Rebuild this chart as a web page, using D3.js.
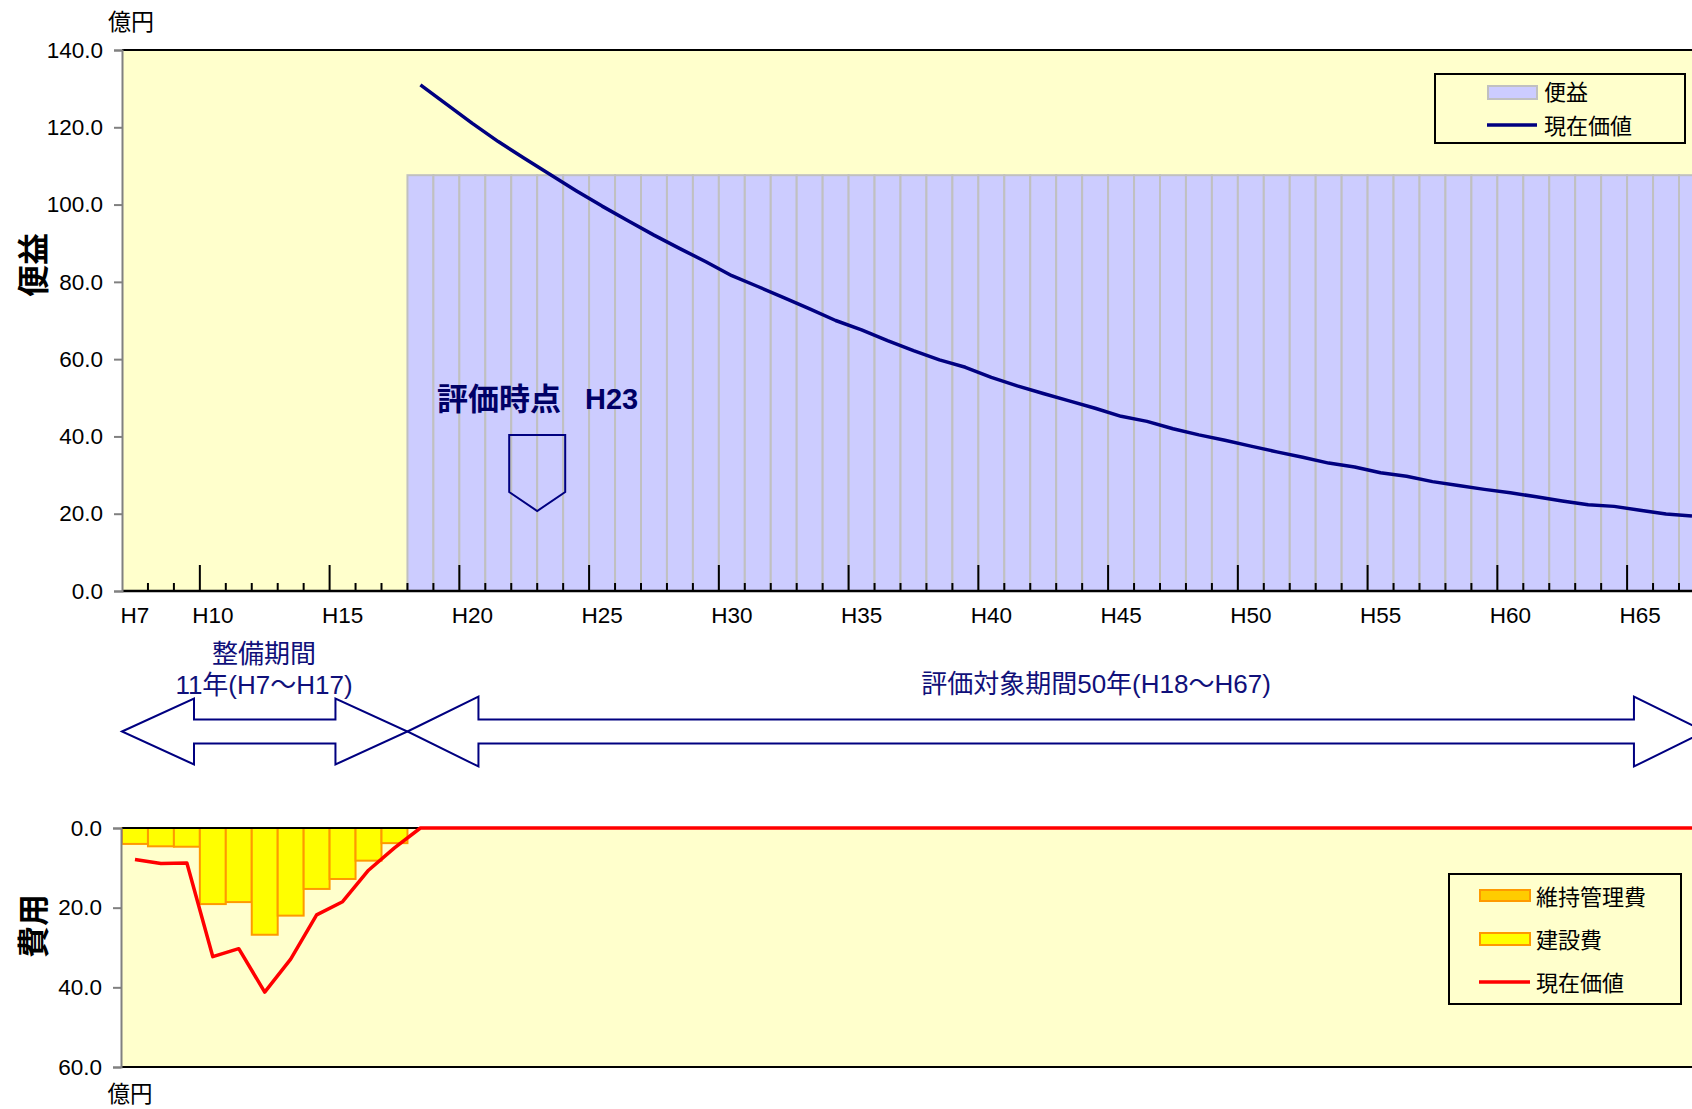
<!DOCTYPE html>
<html lang="ja">
<head>
<meta charset="utf-8">
<script src="https://cdn.jsdelivr.net/npm/d3@7"></script>
<style>
html, body { margin: 0; padding: 0; background: #fff; }
svg { display: block; font-family: "Liberation Sans", "Noto Sans CJK JP", sans-serif; }
</style>
</head>
<body>
<svg id="chart" width="1692" height="1109"></svg>
<script>
// Fiscal years H7 … H67 (one band per year)
const years = d3.range(7, 68).map(n => "H" + n);
const xTickLabels = ["H7", "H10", "H15", "H20", "H25", "H30", "H35", "H40", "H45", "H50", "H55", "H60", "H65"];
const benefitTicks = [0, 20, 40, 60, 80, 100, 120, 140];
const costTicks = [0, 20, 40, 60];

// Benefit (億円/年), H18 – H67
const benefitYears = years.slice(11);
const benefit = [
  107.6, 107.6, 107.6, 107.6, 107.6, 107.6, 107.6, 107.6, 107.6, 107.6,
  107.6, 107.6, 107.6, 107.6, 107.6, 107.6, 107.6, 107.6, 107.6, 107.6,
  107.6, 107.6, 107.6, 107.6, 107.6, 107.6, 107.6, 107.6, 107.6, 107.6,
  107.6, 107.6, 107.6, 107.6, 107.6, 107.6, 107.6, 107.6, 107.6, 107.6,
  107.6, 107.6, 107.6, 107.6, 107.6, 107.6, 107.6, 107.6, 107.6, 107.6
];
// Present value of benefit, H18 – H67
const benefitPV = [
  131.0, 126.0, 121.0, 116.3, 112.0, 107.8, 103.6, 99.6, 95.8, 92.1,
  88.6, 85.2, 81.6, 78.8, 75.9, 73.0, 70.0, 67.6, 64.8, 62.2,
  59.8, 57.9, 55.3, 53.1, 51.1, 49.2, 47.3, 45.2, 43.9, 42.0,
  40.4, 39.0, 37.5, 36.0, 34.6, 33.1, 32.1, 30.6, 29.7, 28.3,
  27.3, 26.3, 25.4, 24.4, 23.3, 22.3, 21.9, 20.9, 19.9, 19.4
];

// Costs (億円/年), H7 – H67
const constructionCost = [
  4.0, 4.6, 4.7, 19.1, 18.6, 26.8, 22.0, 15.3, 12.8, 8.2, 3.8,
  0, 0, 0, 0, 0, 0, 0, 0, 0, 0, 0, 0, 0, 0, 0, 0, 0, 0, 0, 0,
  0, 0, 0, 0, 0, 0, 0, 0, 0, 0, 0, 0, 0, 0, 0, 0, 0, 0, 0, 0,
  0, 0, 0, 0, 0, 0, 0, 0, 0, 0
];
const maintenanceCost = [
  0, 0, 0, 0, 0, 0, 0, 0, 0, 0, 0,
  0, 0, 0, 0, 0, 0, 0, 0, 0, 0, 0, 0, 0, 0, 0, 0, 0, 0, 0, 0,
  0, 0, 0, 0, 0, 0, 0, 0, 0, 0, 0, 0, 0, 0, 0, 0, 0, 0, 0, 0,
  0, 0, 0, 0, 0, 0, 0, 0, 0, 0
];
const costPV = [
  7.9, 8.9, 8.8, 32.3, 30.3, 41.2, 32.9, 21.8, 18.5, 10.6, 5.0,
  0, 0, 0, 0, 0, 0, 0, 0, 0, 0, 0, 0, 0, 0, 0, 0, 0, 0, 0, 0,
  0, 0, 0, 0, 0, 0, 0, 0, 0, 0, 0, 0, 0, 0, 0, 0, 0, 0, 0, 0,
  0, 0, 0, 0, 0, 0, 0, 0, 0, 0
];

const NAVY = "#000080";
const PLOT_BG = "#FFFFCC";
const TICK_FONT = 22.5;
const svg = d3.select("#chart");

const left = 122, step = 25.95;
const x = d3.scaleBand().domain(years).range([left, left + years.length * step]).paddingInner(0).paddingOuter(0);
const xr = x.range()[1];
const cx = d => x(d) + x.bandwidth() / 2;

// ---------- Upper panel: benefit ----------
const yB = d3.scaleLinear().domain([0, 140]).range([591, 50]);
const upper = svg.append("g");

upper.append("rect").attr("x", left).attr("y", yB(140)).attr("width", xr - left).attr("height", yB(0) - yB(140))
  .attr("fill", PLOT_BG);

upper.append("g").selectAll("rect").data(benefitYears).join("rect")
  .attr("x", d => x(d)).attr("width", x.bandwidth())
  .attr("y", (d, i) => yB(benefit[i])).attr("height", (d, i) => yB(0) - yB(benefit[i]))
  .attr("fill", "#CCCCFF").attr("stroke", "#C0C0C0").attr("stroke-width", 2);

upper.append("path").datum(benefitYears)
  .attr("fill", "none").attr("stroke", NAVY).attr("stroke-width", 3.5).attr("stroke-linejoin", "round")
  .attr("d", d3.line().x(d => cx(d)).y((d, i) => yB(benefitPV[i])));

// evaluation-point marker
const mx = x("H23");
upper.append("path")
  .attr("d", `M${mx - 28},435 L${mx + 28},435 L${mx + 28},492 L${mx},511 L${mx - 28},492 Z`)
  .attr("fill", "none").attr("stroke", NAVY).attr("stroke-width", 2);
upper.append("text").attr("x", 437).attr("y", 399).attr("dominant-baseline", "central")
  .attr("font-size", 31).attr("font-weight", "bold").attr("fill", "#000066")
  .text("評価時点");
upper.append("text").attr("x", 585).attr("y", 399).attr("dominant-baseline", "central")
  .attr("font-size", 29).attr("font-weight", "bold").attr("fill", "#000066")
  .text("H23");

// plot frame top
upper.append("line").attr("x1", left).attr("x2", xr).attr("y1", yB(140)).attr("y2", yB(140))
  .attr("stroke", "#000").attr("stroke-width", 2);

// category axis with year ticks
upper.append("line").attr("x1", left).attr("x2", xr).attr("y1", yB(0)).attr("y2", yB(0))
  .attr("stroke", "#000").attr("stroke-width", 2.5);
upper.append("g").selectAll("line").data(years.slice(1)).join("line")
  .attr("x1", d => x(d)).attr("x2", d => x(d))
  .attr("y1", yB(0)).attr("y2", d => yB(0) - (+d.slice(1) % 5 === 0 ? 26 : 8))
  .attr("stroke", "#000").attr("stroke-width", 2);

const xAxis = upper.append("g").attr("transform", `translate(0,${yB(0)})`)
  .call(d3.axisBottom(x).tickValues(xTickLabels).tickSize(0).tickPadding(16));
xAxis.select(".domain").remove();
xAxis.selectAll("text").attr("font-size", TICK_FONT).attr("fill", "#000").attr("font-family", null);

const yAxisB = upper.append("g").attr("transform", `translate(${left},0)`)
  .call(d3.axisLeft(yB).tickValues(benefitTicks).tickFormat(d3.format(".1f")).tickSize(8).tickPadding(11));
yAxisB.select(".domain").attr("stroke", "#808080").attr("stroke-width", 2);
yAxisB.selectAll(".tick line").attr("stroke", "#808080").attr("stroke-width", 2);
yAxisB.selectAll("text").attr("font-size", TICK_FONT).attr("fill", "#000").attr("font-family", null);

svg.append("text").attr("x", 131).attr("y", 22).attr("text-anchor", "middle").attr("dominant-baseline", "central")
  .attr("font-size", 23).text("億円");
svg.append("text").attr("transform", "translate(34,265) rotate(-90)").attr("text-anchor", "middle")
  .attr("dominant-baseline", "central").attr("font-size", 32).attr("font-weight", "bold").text("便益");

// legend (benefit)
const lg1 = svg.append("g");
lg1.append("rect").attr("x", 1435).attr("y", 74).attr("width", 250).attr("height", 69)
  .attr("fill", "none").attr("stroke", "#000").attr("stroke-width", 2);
lg1.append("rect").attr("x", 1488).attr("y", 86).attr("width", 49).attr("height", 13)
  .attr("fill", "#CCCCFF").attr("stroke", "#C0C0C0").attr("stroke-width", 2);
lg1.append("line").attr("x1", 1487).attr("x2", 1537).attr("y1", 125).attr("y2", 125)
  .attr("stroke", NAVY).attr("stroke-width", 3.5);
lg1.selectAll("text").data(["便益", "現在価値"]).join("text")
  .attr("x", 1544).attr("y", (d, i) => 92 + i * 34).attr("dominant-baseline", "central")
  .attr("font-size", 22).text(d => d);

// ---------- Period arrows ----------
function doubleArrow(x0, x1, cy, hl, hh, sh) {
  return `M${x0},${cy} L${x0 + hl},${cy - hh} L${x0 + hl},${cy - sh} L${x1 - hl},${cy - sh} L${x1 - hl},${cy - hh} ` +
         `L${x1},${cy} L${x1 - hl},${cy + hh} L${x1 - hl},${cy + sh} L${x0 + hl},${cy + sh} L${x0 + hl},${cy + hh} Z`;
}
const arrows = svg.append("g");
arrows.append("path").attr("d", doubleArrow(x("H18"), xr, 731.5, 71, 35, 12))
  .attr("fill", "#fff").attr("stroke", NAVY).attr("stroke-width", 2);
arrows.append("path").attr("d", doubleArrow(x("H7"), x("H18"), 731.5, 72, 33, 12))
  .attr("fill", "#fff").attr("stroke", NAVY).attr("stroke-width", 2);

const labelColor = "#10107a";
svg.append("text").attr("x", 264).attr("y", 654).attr("text-anchor", "middle").attr("dominant-baseline", "central")
  .attr("font-size", 26).attr("fill", labelColor).text("整備期間");
svg.append("text").attr("x", 264).attr("y", 685).attr("text-anchor", "middle").attr("dominant-baseline", "central")
  .attr("font-size", 26).attr("fill", labelColor).text("11年(H7〜H17)");
svg.append("text").attr("x", 1096).attr("y", 684).attr("text-anchor", "middle").attr("dominant-baseline", "central")
  .attr("font-size", 26).attr("fill", labelColor).text("評価対象期間50年(H18〜H67)");

// ---------- Lower panel: cost ----------
const yC = d3.scaleLinear().domain([0, 60]).range([828, 1067]);
const lower = svg.append("g");
lower.append("rect").attr("x", left).attr("y", yC(0)).attr("width", xr - left).attr("height", yC(60) - yC(0))
  .attr("fill", PLOT_BG);

const costRows = years.map((y, i) => ({ year: y, maintenance: maintenanceCost[i], construction: constructionCost[i] }));
const stack = d3.stack().keys(["maintenance", "construction"])(costRows);
const costFill = { maintenance: "#FFCC00", construction: "#FFFF00" };
lower.append("g").selectAll("g").data(stack).join("g")
  .attr("fill", s => costFill[s.key]).attr("stroke", "#FF9900").attr("stroke-width", 2)
  .selectAll("rect").data(s => s.filter(d => d[1] - d[0] > 0)).join("rect")
  .attr("x", d => x(d.data.year)).attr("width", x.bandwidth())
  .attr("y", d => yC(d[0])).attr("height", d => yC(d[1]) - yC(d[0]));

lower.append("line").attr("x1", left).attr("x2", xr).attr("y1", yC(0)).attr("y2", yC(0))
  .attr("stroke", "#000").attr("stroke-width", 2);
lower.append("line").attr("x1", left).attr("x2", xr).attr("y1", yC(60)).attr("y2", yC(60))
  .attr("stroke", "#000").attr("stroke-width", 2);

lower.append("path").datum(years)
  .attr("fill", "none").attr("stroke", "#FF0000").attr("stroke-width", 3.5).attr("stroke-linejoin", "round")
  .attr("d", d3.line().x(d => cx(d)).y((d, i) => yC(costPV[i])));

const yAxisC = lower.append("g").attr("transform", `translate(${left - 1},0)`)
  .call(d3.axisLeft(yC).tickValues(costTicks).tickFormat(d3.format(".1f")).tickSize(8).tickPadding(11));
yAxisC.select(".domain").attr("stroke", "#808080").attr("stroke-width", 2);
yAxisC.selectAll(".tick line").attr("stroke", "#808080").attr("stroke-width", 2);
yAxisC.selectAll("text").attr("font-size", TICK_FONT).attr("fill", "#000").attr("font-family", null);

svg.append("text").attr("x", 130).attr("y", 1094).attr("text-anchor", "middle").attr("dominant-baseline", "central")
  .attr("font-size", 22.5).text("億円");
svg.append("text").attr("transform", "translate(34,926) rotate(-90)").attr("text-anchor", "middle")
  .attr("dominant-baseline", "central").attr("font-size", 32).attr("font-weight", "bold").text("費用");

// legend (cost)
const lg2 = svg.append("g");
lg2.append("rect").attr("x", 1449).attr("y", 874).attr("width", 232).attr("height", 130)
  .attr("fill", "none").attr("stroke", "#000").attr("stroke-width", 2);
lg2.append("rect").attr("x", 1480).attr("y", 890).attr("width", 50).attr("height", 11)
  .attr("fill", "#FFCC00").attr("stroke", "#FF9900").attr("stroke-width", 2);
lg2.append("rect").attr("x", 1480).attr("y", 933).attr("width", 50).attr("height", 12)
  .attr("fill", "#FFFF00").attr("stroke", "#FF9900").attr("stroke-width", 2);
lg2.append("line").attr("x1", 1479).attr("x2", 1530).attr("y1", 982).attr("y2", 982)
  .attr("stroke", "#FF0000").attr("stroke-width", 3.5);
lg2.selectAll("text").data(["維持管理費", "建設費", "現在価値"]).join("text")
  .attr("x", 1536).attr("y", (d, i) => 897 + i * 43).attr("dominant-baseline", "central")
  .attr("font-size", 22).text(d => d);
</script>
</body>
</html>
